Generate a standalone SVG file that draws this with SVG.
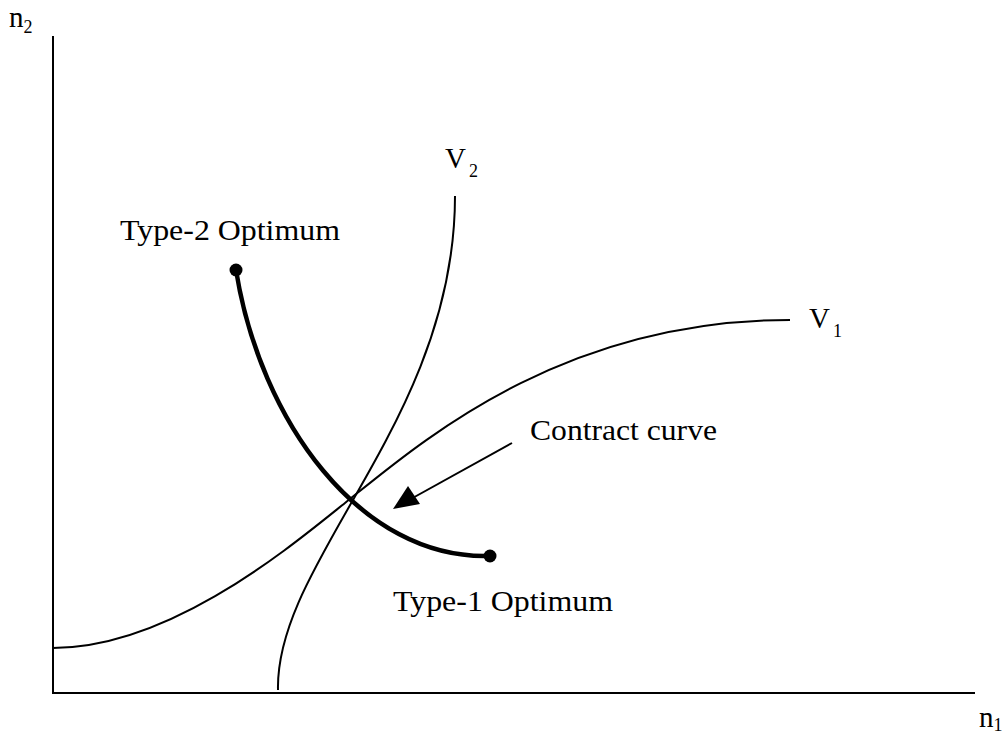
<svg xmlns="http://www.w3.org/2000/svg" width="1007" height="736" viewBox="0 0 1007 736">
<style>
text{font-family:"Liberation Serif","Times New Roman",serif;fill:#000;font-size:29px}
.sub{font-size:18px}
.thin{fill:none;stroke:#000;stroke-width:2}
.thick{fill:none;stroke:#000;stroke-width:4.5;stroke-linecap:round}
</style>
<g id="axes">
<path class="thin" d="M53,36 V693 H975" stroke-width="2.5"/>
<text x="9" y="27">n<tspan class="sub" dy="6">2</tspan></text>
<text x="979" y="727">n<tspan class="sub" dy="4">1</tspan></text>
</g>
<g id="v1">
<path class="thin" d="M53,648 C170,648 290,547 345,503 C420,443 560,320 790,320"/>
<text x="809" y="328">V<tspan class="sub" dy="9" dx="3">1</tspan></text>
</g>
<g id="v2">
<path class="thin" d="M278,690 C275,560 455,420 455,196"/>
<text x="445" y="168">V<tspan class="sub" dy="9" dx="3">2</tspan></text>
</g>
<g id="contract">
<path class="thick" d="M236,270 C260,420 360,560 490,556"/>
<circle cx="236" cy="270" r="6.5"/>
<circle cx="490" cy="556" r="6.5"/>
</g>
<g id="type2"><text x="120" y="240" textLength="220" lengthAdjust="spacingAndGlyphs">Type-2 Optimum</text></g>
<g id="type1"><text x="393" y="611" textLength="220" lengthAdjust="spacingAndGlyphs">Type-1 Optimum</text></g>
<g id="label"><text x="530" y="440" textLength="187" lengthAdjust="spacingAndGlyphs">Contract curve</text></g>
<g id="connectors">
<line x1="512" y1="443" x2="400" y2="505" stroke="#000" stroke-width="2"/>
<path d="M393,509 L408,486 L420,504 Z" fill="#000"/>
</g>
</svg>
